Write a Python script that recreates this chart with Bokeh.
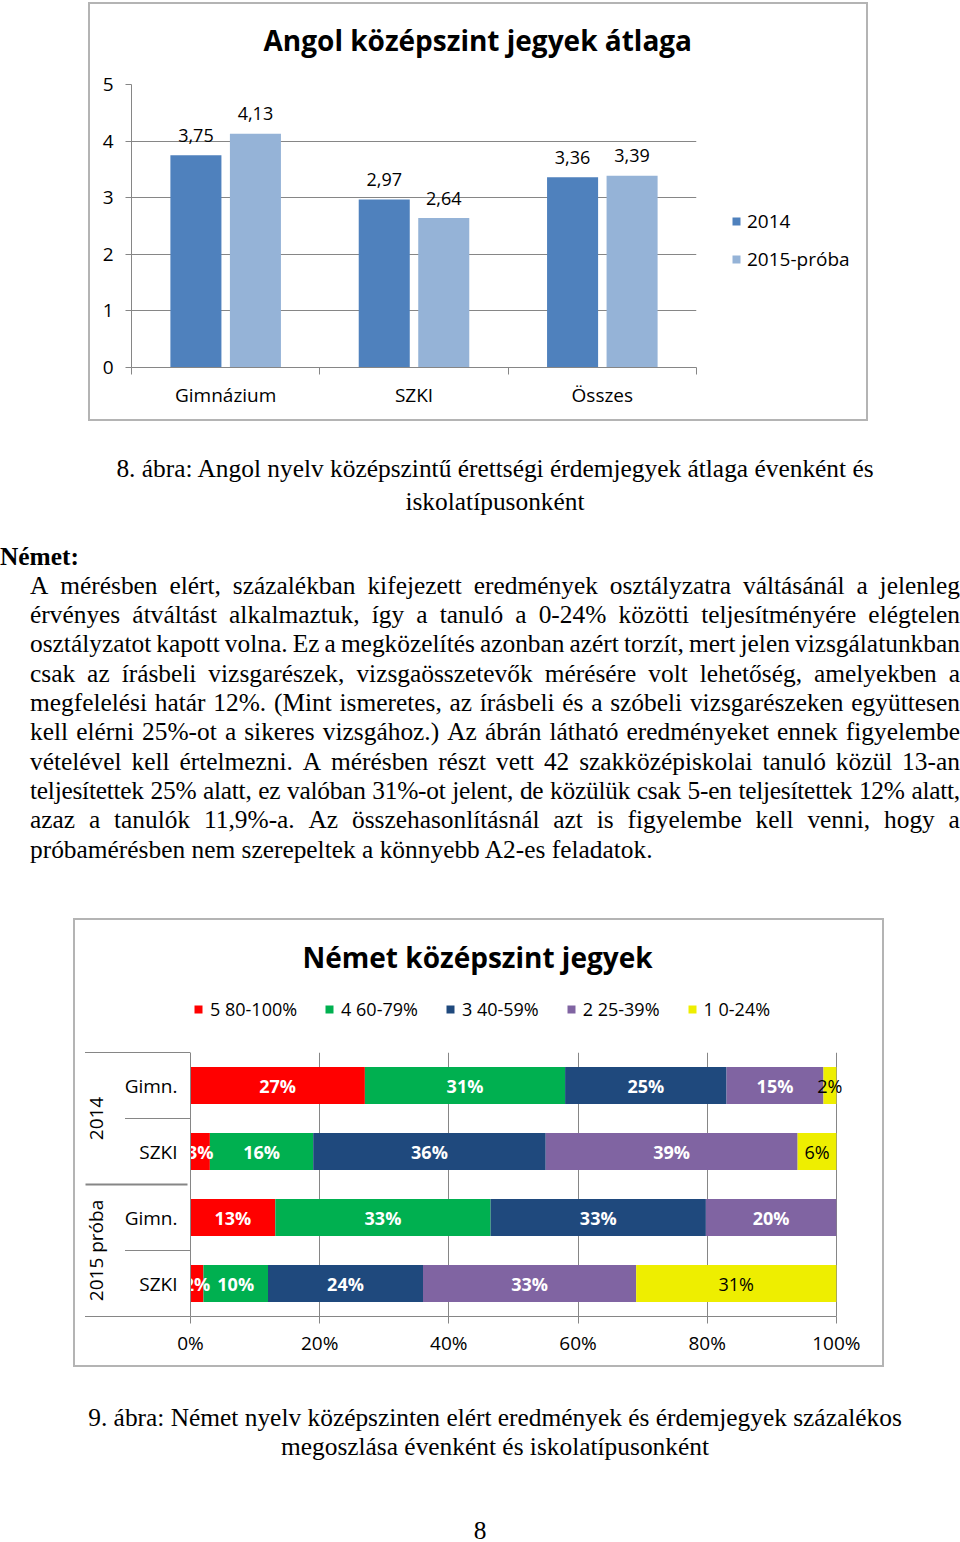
from bokeh.plotting import figure
from bokeh.models import (Range1d, FactorRange, FixedTicker, ColumnDataSource, LabelSet, Title,
                          Legend, LegendItem, Div)
from bokeh.transform import dodge
from bokeh.core.properties import value
from bokeh.embed import file_html
from bokeh.resources import INLINE

# ---------------- data: chart 1 (Angol) ----------------
angol_title = "Angol középszint jegyek átlaga"
angol_categories = ["Gimnázium", "SZKI", "Összes"]
angol_series = ["2014", "2015-próba"]
angol_2014 = [3.75, 2.97, 3.36]
angol_2015 = [4.13, 2.64, 3.39]
angol_yticks = [0, 1, 2, 3, 4, 5]

# ---------------- data: chart 2 (Német) ----------------
nemet_title = "Német középszint jegyek"
nemet_years = ["2014", "2014", "2015 próba", "2015 próba"]
nemet_schools = ["Gimn.", "SZKI", "Gimn.", "SZKI"]
nemet_grades = ["5 80-100%", "4 60-79%", "3 40-59%", "2 25-39%", "1 0-24%"]
nemet_g5 = [27, 3, 13, 2]
nemet_g4 = [31, 16, 33, 10]
nemet_g3 = [25, 36, 33, 24]
nemet_g2 = [15, 39, 20, 33]
nemet_g1 = [2, 6, 0, 31]
nemet_xticks = [0, 20, 40, 60, 80, 100]

# ---------------- texts ----------------
caption8 = ["8. ábra: Angol nyelv középszintű érettségi érdemjegyek átlaga évenként és",
            "iskolatípusonként"]
heading = "Német:"
paragraph = [
    "A mérésben elért, százalékban kifejezett eredmények osztályzatra váltásánál a jelenleg",
    "érvényes átváltást alkalmaztuk, így a tanuló a 0-24% közötti teljesítményére elégtelen",
    "osztályzatot kapott volna. Ez a megközelítés azonban azért torzít, mert jelen vizsgálatunkban",
    "csak az írásbeli vizsgarészek, vizsgaösszetevők mérésére volt lehetőség, amelyekben a",
    "megfelelési határ 12%. (Mint ismeretes, az írásbeli és a szóbeli vizsgarészeken együttesen",
    "kell elérni 25%-ot a sikeres vizsgához.) Az ábrán látható eredményeket ennek figyelembe",
    "vételével kell értelmezni. A mérésben részt vett 42 szakközépiskolai tanuló közül 13-an",
    "teljesítettek 25% alatt, ez valóban 31%-ot jelent, de közülük csak 5-en teljesítettek 12% alatt,",
    "azaz a tanulók 11,9%-a. Az összehasonlításnál azt is figyelembe kell venni, hogy a",
    "próbamérésben nem szerepeltek a könnyebb A2-es feladatok.",
]
caption9 = ["9. ábra: Német nyelv középszinten elért eredmények és érdemjegyek százalékos",
            "megoszlása évenként és iskolatípusonként"]
page_no = "8"

SANS = "Open Sans"
SERIF = "Liberation Serif"
GRID = "#868686"


def place(top, left):
    return {"position": "absolute", "top": f"{top}px", "left": f"{left}px"}


def chart_box(top, left, width, height):
    st = place(top, left)
    st.update({"border": "2px solid #b4b4b4", "box-sizing": "border-box",
               "pointer-events": "none", "background": "transparent"})
    return Div(text="", width=width, height=height, margin=0, styles=st)


def legend_figure(top, left, width, height, labels, colors, series_values, loc, horizontal,
                  font_size, spacing, standoff):
    # legend panel of its own; its proxy bars (zero width, outside the ranges) only carry the colours
    lf = figure(width=width, height=height, x_range=Range1d(0, 1), y_range=Range1d(-2, -1),
                output_backend="svg", toolbar_location=None, title=None,
                x_axis_location=None, y_axis_location=None, min_border=0,
                margin=0, styles=place(top, left))
    lf.grid.visible = False
    lf.outline_line_color = None
    lf.background_fill_color = None
    lf.border_fill_color = None
    items = []
    for lab, col, vals in zip(labels, colors, series_values):
        r = lf.vbar(x=list(range(len(vals))), top=vals, width=0, fill_color=col, line_color=None)
        items.append(LegendItem(label=lab, renderers=[r]))
    lf.add_layout(Legend(items=items, location=loc, padding=0, margin=0,
                         orientation="horizontal" if horizontal else "vertical",
                         border_line_color=None, background_fill_alpha=0,
                         glyph_width=10, glyph_height=10, label_standoff=standoff, spacing=spacing,
                         label_text_font=SANS, label_text_font_size=font_size,
                         label_text_color="#000000"), "center")
    return lf


# ================= chart 1 =================
xpos = [i + 0.5 for i in range(len(angol_categories))]
bounds = [float(i) for i in range(len(angol_categories) + 1)]
series_colors = ["#4F81BD", "#95B3D7"]

P1_TOP = -8
p1 = figure(width=780, height=421 - P1_TOP, title=None,
            x_range=Range1d(0, len(angol_categories)), y_range=Range1d(0, 5),
            output_backend="svg", toolbar_location=None,
            min_border_left=43, min_border_right=172, min_border_top=84 - P1_TOP, min_border_bottom=54,
            margin=0, styles=place(P1_TOP, 88))
p1.outline_line_color = None
p1.border_fill_color = None
p1.add_layout(Title(text=angol_title, align="left", offset=132, standoff=52, text_font=SANS,
                    text_font_size="28px", text_font_style="bold", text_color="#000000"), "above")

src1 = ColumnDataSource(dict(
    x=xpos, v14=angol_2014, v15=angol_2015,
    t14=[f"{v:.2f}".replace(".", ",") for v in angol_2014],
    t15=[f"{v:.2f}".replace(".", ",") for v in angol_2015],
))
p1.vbar(x=dodge("x", -0.158), top="v14", width=0.271, source=src1,
        fill_color=series_colors[0], line_color=None)
p1.vbar(x=dodge("x", 0.158), top="v15", width=0.271, source=src1,
        fill_color=series_colors[1], line_color=None)
for col, tcol, off in (("v14", "t14", -0.158), ("v15", "t15", 0.158)):
    p1.add_layout(LabelSet(x=dodge("x", off), y=col, text=tcol, source=src1,
                           text_align="center", text_baseline="middle", y_offset=20,
                           text_font=value(SANS), text_font_size="18px", text_color="#000000"))

p1.xaxis.ticker = FixedTicker(ticks=xpos, minor_ticks=bounds)
p1.xaxis.major_label_overrides = {x: c for x, c in zip(xpos, angol_categories)}
p1.xaxis.major_tick_out = 0
p1.xaxis.major_tick_in = 0
p1.xaxis.minor_tick_out = 7
p1.xaxis.minor_tick_in = 0
p1.xaxis.minor_tick_line_color = GRID
p1.xaxis.axis_line_color = GRID
p1.xaxis.major_label_standoff = 7
p1.xaxis.major_label_text_font = SANS
p1.xaxis.major_label_text_font_size = "19px"
p1.xaxis.major_label_text_color = "#000000"

p1.yaxis.ticker = FixedTicker(ticks=angol_yticks, minor_ticks=[])
p1.yaxis.major_tick_out = 6
p1.yaxis.major_tick_in = 0
p1.yaxis.major_tick_line_color = GRID
p1.yaxis.axis_line_color = GRID
p1.yaxis.major_label_standoff = 12
p1.yaxis.major_label_text_font = SANS
p1.yaxis.major_label_text_font_size = "19px"
p1.yaxis.major_label_text_color = "#000000"
p1.xgrid.visible = False
p1.ygrid.ticker = FixedTicker(ticks=angol_yticks, minor_ticks=[])
p1.ygrid.grid_line_color = GRID

leg1 = legend_figure(200, 720, 140, 80, angol_series, series_colors, [angol_2014, angol_2015],
                     (11, 8), False, "19px", 12, 6)


# ================= text blocks =================
def line_div(text, top, left, width=None, justify=False, center=False, extra=""):
    if justify:
        spans = "".join(f"<span>{w}</span>" for w in text.split(" "))
        return (f'<div style="position:absolute;top:{top}px;left:{left}px;width:{width}px;'
                f'display:flex;justify-content:space-between;white-space:nowrap;{extra}">{spans}</div>')
    if center:
        return (f'<div style="position:absolute;top:{top}px;left:{left}px;width:{width}px;'
                f'text-align:center;white-space:nowrap;{extra}">{text}</div>')
    return (f'<div style="position:absolute;top:{top}px;left:{left}px;white-space:nowrap;{extra}">{text}</div>')


FS = 25.4
LH = 29
base = f"font-family:'{SERIF}';font-size:{FS}px;line-height:{LH}px;color:#000;"
T1 = 421
parts = []
parts.append(line_div(caption8[0], 468 - T1 - LH / 2, 30, 930, center=True))
parts.append(line_div(caption8[1], 501 - T1 - LH / 2, 30, 930, center=True))
parts.append(line_div(heading, 556 - T1 - LH / 2, 0, extra="font-weight:bold;"))
for i, t in enumerate(paragraph):
    top = 585 + i * 29.35 - T1 - LH / 2
    last = i == len(paragraph) - 1
    extra = "letter-spacing:-0.25px;" if i == 7 else ""
    parts.append(line_div(t, round(top, 1), 30, 930, justify=not last, extra=extra))
html1 = f'<div style="position:relative;width:960px;height:497px;{base}">' + "".join(parts) + "</div>"
div1 = Div(text=html1, width=960, height=497, margin=0, styles=place(T1, 0))

# ================= chart 2 =================
factors = list(zip(nemet_years, nemet_schools))
grade_vals = [nemet_g5, nemet_g4, nemet_g3, nemet_g2, nemet_g1]
grade_keys = ["g5", "g4", "g3", "g2", "g1"]
grade_colors = ["#FF0000", "#00B050", "#1F497D", "#8064A2", "#EEEE00"]
label_colors = ["#FFFFFF", "#FFFFFF", "#FFFFFF", "#FFFFFF", "#000000"]
label_styles = ["bold", "bold", "bold", "bold", "normal"]
totals = [sum(g[i] for g in grade_vals) for i in range(len(factors))]

data2 = {"y": factors}
for k, g in zip(grade_keys, grade_vals):
    data2[k] = [v / t * 100 for v, t in zip(g, totals)]
src2 = ColumnDataSource(data2)

P2_TOP = 858
X2_END = 102.5  # a little room right of 100% so the outside "2%" label is not cut
p2 = figure(width=811, height=1367 - P2_TOP, title=None, x_range=Range1d(0, X2_END),
            y_range=FactorRange(*factors[::-1], group_padding=0, factor_padding=0, range_padding=0),
            output_backend="svg", toolbar_location=None,
            min_border_left=117, min_border_right=32, min_border_top=1052 - P2_TOP, min_border_bottom=51,
            margin=0, styles=place(P2_TOP, 73))
p2.outline_line_color = None
p2.border_fill_color = None
p2.add_layout(Title(text=nemet_title, align="left", offset=112, standoff=154, text_font=SANS,
                    text_font_size="28px", text_font_style="bold", text_color="#000000"), "above")

p2.hbar_stack(grade_keys, y="y", height=0.56, color=grade_colors, source=src2, line_width=0)

cum = [0.0] * len(factors)
for k, g, tc, ts in zip(grade_keys, grade_vals, label_colors, label_styles):
    shares = data2[k]
    mids = [c + s / 2 for c, s in zip(cum, shares)]
    cum = [c + s for c, s in zip(cum, shares)]
    lsrc = ColumnDataSource(dict(x=mids, y=factors, t=[f"{v}%" if v > 0 else "" for v in g]))
    p2.text(x="x", y="y", text="t", source=lsrc, text_align="center", text_baseline="middle",
            text_font=value(SANS), text_font_size="18px", text_font_style=ts, text_color=tc)

p2.xaxis.bounds = (0, 100)
p2.xaxis.ticker = FixedTicker(ticks=nemet_xticks, minor_ticks=[])
p2.xaxis.major_label_overrides = {t: f"{t}%" for t in nemet_xticks}
p2.xaxis.major_tick_out = 7
p2.xaxis.major_tick_in = 0
p2.xaxis.major_tick_line_color = GRID
p2.xaxis.axis_line_color = GRID
p2.xaxis.major_label_standoff = 6
p2.xaxis.major_label_text_font = SANS
p2.xaxis.major_label_text_font_size = "19px"
p2.xaxis.major_label_text_color = "#000000"
p2.xgrid.ticker = FixedTicker(ticks=nemet_xticks, minor_ticks=[])
p2.xgrid.grid_line_color = GRID
p2.ygrid.visible = False

p2.yaxis.major_tick_out = 0
p2.yaxis.major_tick_in = 0
p2.yaxis.major_tick_line_color = None
p2.yaxis.axis_line_color = GRID
p2.yaxis.separator_line_color = GRID
p2.yaxis.major_label_standoff = 13
p2.yaxis.major_label_text_font = SANS
p2.yaxis.major_label_text_font_size = "19px"
p2.yaxis.major_label_text_color = "#000000"
p2.yaxis.group_text_font = SANS
p2.yaxis.group_text_font_size = "19px"
p2.yaxis.group_text_font_style = "normal"
p2.yaxis.group_text_color = "#000000"

leg2 = legend_figure(990, 180, 620, 40, nemet_grades, grade_colors, grade_vals,
                     (13, 9), True, "18px", 27, 7)

# category-axis frame lines (outer edges of the two-level axis and the boundaries between schools)
axis_lines = "".join([
    f'<div style="position:absolute;top:2px;left:1px;width:105px;height:1px;background:{GRID};"></div>',
    f'<div style="position:absolute;top:266px;left:1px;width:105px;height:1px;background:{GRID};"></div>',
    f'<div style="position:absolute;top:68px;left:41px;width:65px;height:1px;background:{GRID};"></div>',
    f'<div style="position:absolute;top:200px;left:41px;width:65px;height:1px;background:{GRID};"></div>',
])
axis_div = Div(text=f'<div style="position:relative;width:110px;height:270px;">{axis_lines}</div>',
               width=110, height=270, margin=0,
               styles=dict(place(1050, 84), **{"pointer-events": "none"}))

T2 = 1367
parts2 = []
parts2.append(line_div(caption9[0], 1417 - T2 - LH / 2, 30, 930, center=True))
parts2.append(line_div(caption9[1], 1446 - T2 - LH / 2, 30, 930, center=True))
parts2.append(line_div(page_no, 1530 - T2 - LH / 2, 0, 960, center=True))
html2 = f'<div style="position:relative;width:960px;height:175px;{base}">' + "".join(parts2) + "</div>"
div2 = Div(text=html2, width=960, height=175, margin=0, styles=place(T2, 0))

box1 = chart_box(2, 88, 780, 419)
box2 = chart_box(918, 73, 811, 449)

open("out.html", "w").write(file_html([p1, p2, leg1, leg2, axis_div, div1, div2, box1, box2], INLINE))
